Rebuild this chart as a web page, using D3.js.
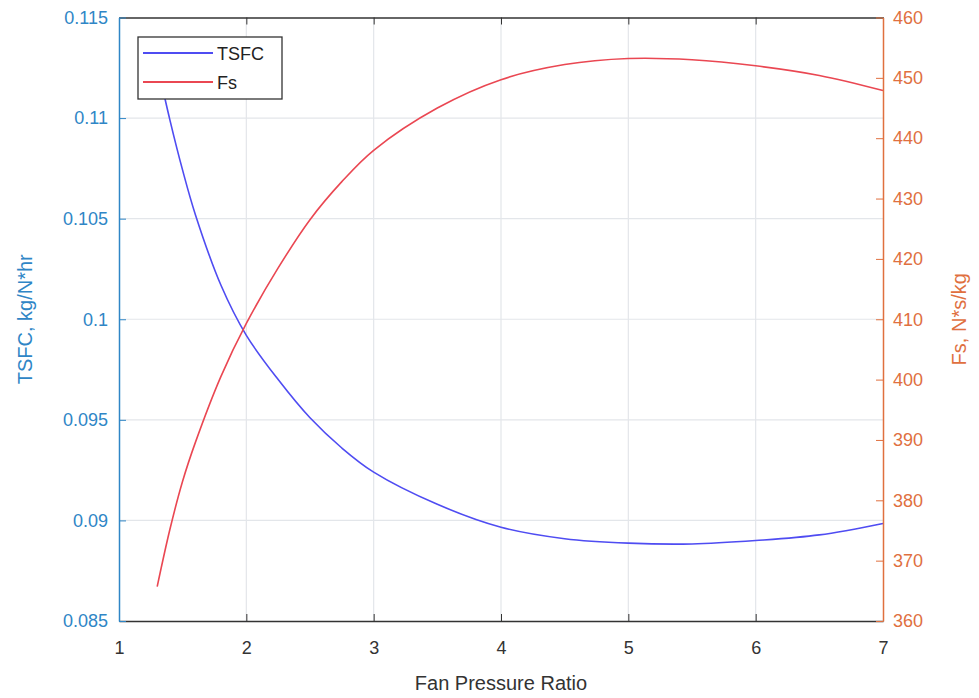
<!DOCTYPE html>
<html>
<head>
<meta charset="utf-8">
<script src="https://cdn.jsdelivr.net/npm/d3@7"></script>
<style>
  body { margin: 0; background: #fff; }
  svg text { font-family: "Liberation Sans", Arial, sans-serif; }
</style>
</head>
<body>
<script>
// fan pressure ratio samples
const fpr  = [1.3, 1.4, 1.5, 1.6, 1.8, 2, 2.25, 2.5, 2.75, 3, 3.5, 4, 4.5, 5, 5.5, 6, 6.5, 7];
const tsfc = [0.1127, 0.1099, 0.1074, 0.1052, 0.1017, 0.0992, 0.0970, 0.0951, 0.0936, 0.0924,
              0.0908, 0.08966, 0.08909, 0.08887, 0.08883, 0.08900, 0.08928, 0.08985];
const fs   = [365.7, 375.2, 383.2, 389.6, 400.5, 409.3, 418.5, 426.5, 432.8, 438.0,
              445.0, 449.7, 452.2, 453.2, 453.0, 452.0, 450.4, 447.9];
const xTicks = [1, 2, 3, 4, 5, 6, 7];
const yLeftTicks = [0.085, 0.09, 0.095, 0.1, 0.105, 0.11, 0.115];
const yRightTicks = [360, 370, 380, 390, 400, 410, 420, 430, 440, 450, 460];
const seriesNames = ['TSFC', 'Fs'];

const W = 979, H = 698;
const m = {top: 17.5, right: 96, bottom: 77, left: 119};
const w = W - m.left - m.right, h = H - m.top - m.bottom;

const blueAxis = '#2f86c6', orangeAxis = '#e0703f';
const blueLine = '#4f4cf2', redLine = '#ea4752';

const svg = d3.select('body').append('svg').attr('width', W).attr('height', H);
const g = svg.append('g').attr('transform', `translate(${m.left},${m.top})`);

const x = d3.scaleLinear().domain([1, 7]).range([0, w]);
const yL = d3.scaleLinear().domain([0.085, 0.115]).range([h, 0]);
const yR = d3.scaleLinear().domain([360, 460]).range([h, 0]);

// grid
g.append('g').selectAll('line').data(xTicks.slice(1, -1)).enter().append('line')
  .attr('x1', d => x(d)).attr('x2', d => x(d)).attr('y1', 0).attr('y2', h)
  .attr('stroke', '#e3e6ea').attr('stroke-width', 1.2);
g.append('g').selectAll('line').data(yLeftTicks.slice(1, -1)).enter().append('line')
  .attr('y1', d => yL(d)).attr('y2', d => yL(d)).attr('x1', 0).attr('x2', w)
  .attr('stroke', '#e3e6ea').attr('stroke-width', 1.2);

// curves
const tsfcData = fpr.map((d, i) => [d, tsfc[i]]);
const fsData = fpr.map((d, i) => [d, fs[i]]);
g.append('path').datum(tsfcData)
  .attr('fill', 'none').attr('stroke', blueLine).attr('stroke-width', 1.6)
  .attr('d', d3.line().x(d => x(d[0])).y(d => yL(d[1])).curve(d3.curveCatmullRom.alpha(0.5)));
g.append('path').datum(fsData)
  .attr('fill', 'none').attr('stroke', redLine).attr('stroke-width', 1.6)
  .attr('d', d3.line().x(d => x(d[0])).y(d => yR(d[1])).curve(d3.curveCatmullRom.alpha(0.5)));

// axes
const tickFont = '18px';
const xAxis = g.append('g').attr('transform', `translate(0,${h})`)
  .call(d3.axisBottom(x).tickValues(xTicks).tickFormat(d3.format('d')).tickSizeInner(-7).tickSizeOuter(0).tickPadding(20));
xAxis.select('.domain').attr('stroke', '#333').attr('stroke-width', 1.5);
xAxis.selectAll('line').attr('stroke', '#333');
xAxis.selectAll('text').attr('fill', '#333').style('font-size', tickFont);

const xTop = g.append('g')
  .call(d3.axisTop(x).tickValues(xTicks).tickSizeInner(-7).tickSizeOuter(0).tickFormat(''));
xTop.select('.domain').attr('stroke', '#333').attr('stroke-width', 1.5);
xTop.selectAll('line').attr('stroke', '#333');

const leftAxis = g.append('g')
  .call(d3.axisLeft(yL).tickValues(yLeftTicks).tickFormat(d => String(+d.toFixed(3))).tickSizeInner(-7).tickSizeOuter(0).tickPadding(11));
leftAxis.select('.domain').attr('stroke', blueAxis).attr('stroke-width', 1.5);
leftAxis.selectAll('line').attr('stroke', blueAxis);
leftAxis.selectAll('text').attr('fill', blueAxis).style('font-size', tickFont);

const rightAxis = g.append('g').attr('transform', `translate(${w},0)`)
  .call(d3.axisRight(yR).tickValues(yRightTicks).tickSizeInner(-7).tickSizeOuter(0).tickPadding(10));
rightAxis.select('.domain').attr('stroke', orangeAxis).attr('stroke-width', 1.5);
rightAxis.selectAll('line').attr('stroke', orangeAxis);
rightAxis.selectAll('text').attr('fill', orangeAxis).style('font-size', tickFont);

// axis labels
svg.append('text').attr('x', m.left + w / 2).attr('y', 690)
  .attr('text-anchor', 'middle').attr('fill', '#333').style('font-size', '20px')
  .text('Fan Pressure Ratio');
svg.append('text').attr('transform', `translate(32,${m.top + h / 2}) rotate(-90)`)
  .attr('text-anchor', 'middle').attr('fill', blueAxis).style('font-size', '20px')
  .text('TSFC, kg/N*hr');
svg.append('text').attr('transform', `translate(966,${m.top + h / 2}) rotate(-90)`)
  .attr('text-anchor', 'middle').attr('fill', orangeAxis).style('font-size', '20px')
  .text('Fs, N*s/kg');

// legend
const lg = svg.append('g').attr('transform', 'translate(138,37)');
lg.append('rect').attr('width', 144).attr('height', 62)
  .attr('fill', '#fff').attr('stroke', '#333').attr('stroke-width', 1.3);
const colors = [blueLine, redLine];
seriesNames.forEach((name, i) => {
  const yy = 16 + i * 29;
  lg.append('line').attr('x1', 5).attr('x2', 75).attr('y1', yy).attr('y2', yy)
    .attr('stroke', colors[i]).attr('stroke-width', 1.8);
  lg.append('text').attr('x', 79).attr('y', yy + 6.5)
    .attr('fill', '#222').style('font-size', '18px').text(name);
});
</script>
</body>
</html>
